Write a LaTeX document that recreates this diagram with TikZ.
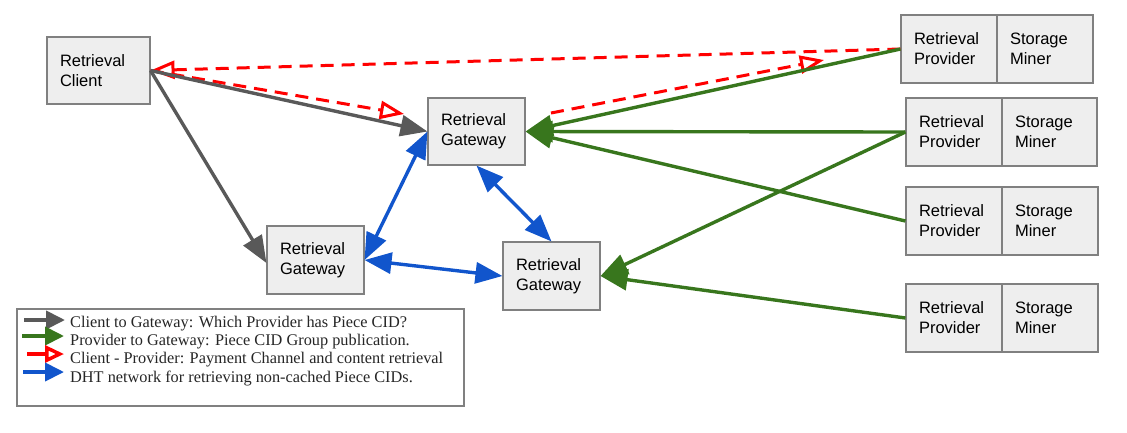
\documentclass[tikz,border=0pt]{standalone}
\usepackage{fontspec}
\setmainfont{Liberation Sans}
\newfontfamily\legendfont{Liberation Serif}
\usetikzlibrary{arrows.meta}
\definecolor{cgray}{HTML}{595959}
\definecolor{cgreen}{HTML}{38761D}
\definecolor{cred}{HTML}{FF0000}
\definecolor{cblue}{HTML}{1155CC}
\definecolor{boxfill}{HTML}{EEEEEE}
\definecolor{boxline}{HTML}{808080}
\begin{document}
\begin{tikzpicture}[x=1pt,y=-1pt,
  box/.style={draw=boxline, fill=boxfill, line width=1.1pt, inner xsep=13pt, inner ysep=0pt,
    text width=#1-26pt, align=left, minimum height=68pt,
    font=\fontsize{16.5}{20}\selectfont},
  conn/.style={line width=3.4pt},
  tip/.style={-{Triangle[length=27pt,width=21pt]}},
  grayarr/.style={conn, cgray, tip},
  greenarr/.style={conn, cgreen, tip},
  bluearr/.style={conn, cblue, {Triangle[length=27pt,width=21pt]}-{Triangle[length=27pt,width=21pt]}},
  redarr/.style={line width=3pt, cred, dash pattern=on 13pt off 8pt, -{Triangle[length=24pt,width=18pt,fill=white]}},
  legtext/.style={anchor=base west, inner sep=0pt, font=\legendfont\fontsize{16.3}{18}\selectfont, text=black!85},
]
\useasboundingbox (0,0) rectangle (1127,432);

% boxes
\node[box=103pt, minimum height=67pt] (client) at (98.5,70.5) {Retrieval\\Client};
\node[box=97pt, minimum height=67pt] (g1) at (476.5,131.5) {Retrieval\\Gateway};
\node[box=97pt] (g2) at (315.5,260) {Retrieval\\Gateway};
\node[box=97pt] (g3) at (551.5,276) {Retrieval\\Gateway};

\node[box=96pt] (p1) at (949,49) {Retrieval\\Provider};
\node[box=96pt] (s1) at (1045,49) {Storage\\Miner};
\node[box=96pt] (p2) at (954,132) {Retrieval\\Provider};
\node[box=95pt] (s2) at (1049.5,132) {Storage\\Miner};
\node[box=96pt] (p3) at (954,221) {Retrieval\\Provider};
\node[box=96pt] (s3) at (1050,221) {Storage\\Miner};
\node[box=96pt] (p4) at (954,318) {Retrieval\\Provider};
\node[box=96pt] (s4) at (1050,318) {Storage\\Miner};

% red dashed
\coordinate (r2end) at (404,114);
\coordinate (r3start) at (551,113);
\coordinate (r3end) at (824,60);
\draw[redarr] (p1.west) -- (client.east);
\draw[redarr] (client.east) -- (r2end);
\draw[redarr] (r3start) -- (r3end);

% gray
\draw[grayarr] (client.east) -- (g1.west);
\draw[grayarr] (client.east) -- ([yshift=-3pt]g2.west);

% green
\draw[greenarr] (p1.west) -- (g1.east);
\draw[greenarr] (p2.west) -- (g1.east);
\draw[greenarr] (p3.west) -- (g1.east);
\draw[greenarr] (p2.west) -- (g3.east);
\draw[greenarr] (p4.west) -- (g3.east);

% blue
\draw[bluearr] (g2.east) -- (g1.west);
\draw[bluearr] (g1.south) -- (g3.north);
\draw[bluearr] (g2.east) -- (g3.west);

% legend
\node[draw=boxline, fill=white, line width=1.1pt, minimum width=447pt, minimum height=97pt, inner sep=0pt] (legend) at (240.5,357.5) {};
\coordinate (l1s) at (24,320); \coordinate (l1e) at (65,320);
\coordinate (l2s) at (22,336); \coordinate (l2e) at (64,336);
\coordinate (l3s) at (27,354); \coordinate (l3e) at (64,354);
\coordinate (l4s) at (23,372); \coordinate (l4e) at (64,372);
\draw[line width=4pt, cgray, -{Triangle[length=19pt,width=18pt]}] (l1s) -- (l1e);
\draw[line width=4pt, cgreen, -{Triangle[length=19pt,width=18pt]}] (l2s) -- (l2e);
\draw[line width=3.5pt, cred, -{Triangle[length=19pt,width=17pt,fill=white]}] (l3s) -- (l3e);
\draw[line width=4pt, cblue, -{Triangle[length=19pt,width=18pt]}] (l4s) -- (l4e);
\node[legtext] (t1) at (70,327) {Client to Gateway: Which Provider has Piece CID?};
\node[legtext] (t2) at (70,345) {Provider to Gateway: Piece CID Group publication.};
\node[legtext] (t3) at (70,363.5) {Client - Provider: Payment Channel and content retrieval};
\node[legtext] (t4) at (70,382) {DHT network for retrieving non-cached Piece CIDs.};
\end{tikzpicture}
\end{document}
